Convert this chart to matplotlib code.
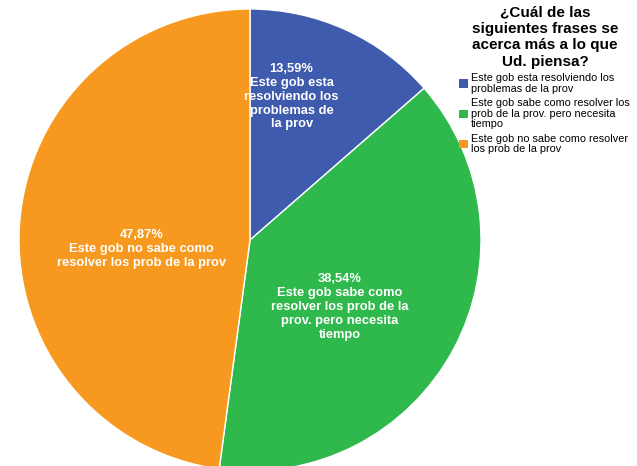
import matplotlib
matplotlib.use("Agg")
import matplotlib.pyplot as plt
from matplotlib.patches import Patch

plt.rcParams["font.family"] = ["Liberation Sans", "DejaVu Sans"]

values = [13.59, 38.54, 47.87]
pct_labels = ["13,59%", "38,54%", "47,87%"]
slice_texts = ["Este gob esta\nresolviendo los\nproblemas de\nla prov",
               "Este gob sabe como\nresolver los prob de la\nprov. pero necesita\ntiempo",
               "Este gob no sabe como\nresolver los prob de la prov"]
legend_labels = ["Este gob esta resolviendo los\nproblemas de la prov",
                 "Este gob sabe como resolver los\nprob de la prov. pero necesita\ntiempo",
                 "Este gob no sabe como resolver\nlos prob de la prov"]
colors = ["#3F5BAE", "#2FB84B", "#F7991F"]
label_pos = [(0.18, 0.62), (0.39, -0.29), (-0.47, -0.04)]

W, H = 637, 466
fig = plt.figure(figsize=(W / 100, H / 100), dpi=100)
cx, cy, r = 250, 240, 231
ax = fig.add_axes([(cx - r) / W, (H - cy - r) / H, 2 * r / W, 2 * r / H])
wedges, _ = ax.pie(values, colors=colors, startangle=90, counterclock=False,
                   radius=1.0, wedgeprops=dict(edgecolor="white", linewidth=1))
ax.set_xlim(-1, 1)
ax.set_ylim(-1, 1)
ax.set_aspect("equal")
ax.axis("off")

for (x, y), p, t in zip(label_pos, pct_labels, slice_texts):
    ax.text(x, y, p + "\n" + t, ha="center", va="center", color="white",
            fontsize=9.3, fontweight="bold", linespacing=1.2)

fig.text(545 / W, 1 - 37 / H, "¿Cuál de las\nsiguientes frases se\nacerca más a lo que\nUd. piensa?",
         ha="center", va="center", fontsize=11, fontweight="bold", linespacing=1.25)

handles = [Patch(facecolor=c, edgecolor="none") for c in colors]
leg = fig.legend(handles, legend_labels, loc="upper left",
                 bbox_to_anchor=(459 / W, 1 - 73 / H), frameon=False,
                 fontsize=7.8, handlelength=0.8, handleheight=0.8,
                 handletextpad=0.3, labelspacing=0.4, borderaxespad=0,
                 borderpad=0)
for t in leg.get_texts():
    t.set_linespacing(1.08)

fig.savefig("out.png", dpi=100)
